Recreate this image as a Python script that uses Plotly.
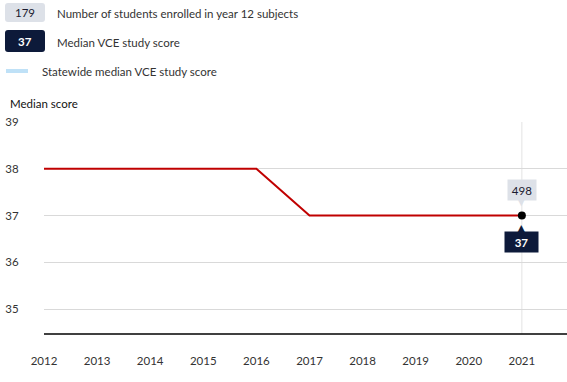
import plotly.graph_objects as go

years = [2012, 2013, 2014, 2015, 2016, 2017, 2018, 2019, 2020, 2021]
median_score = [38, 38, 38, 38, 38, 37, 37, 37, 37, 37]
latest_year = 2021
latest_students = 498
latest_median = 37
legend_students = "179"
legend_median = "37"
y_ticks = [35, 36, 37, 38, 39]
x_ticks = years

W, H = 567, 382
ML, MR, MT, MB = 44, 0, 122, 48
PW, PH = W - ML - MR, H - MT - MB
FONT = "Lato"
FS = 11.5
TXT = "#333333"
NAVY = "#0d1a3a"
LIGHT = "#dde1e8"


def px(x, y):
    return (x - ML) / PW, (H - MB - y) / PH


def rrect(x0, y0, x1, y1, r, color):
    def P(x, y):
        a, b = px(x, y)
        return f"{a:.5f},{b:.5f}"
    d = (f"M {P(x0 + r, y0)} L {P(x1 - r, y0)} Q {P(x1, y0)} {P(x1, y0 + r)} "
         f"L {P(x1, y1 - r)} Q {P(x1, y1)} {P(x1 - r, y1)} L {P(x0 + r, y1)} "
         f"Q {P(x0, y1)} {P(x0, y1 - r)} L {P(x0, y0 + r)} Q {P(x0, y0)} {P(x0 + r, y0)} Z")
    return dict(type="path", xref="paper", yref="paper", path=d,
                fillcolor=color, line=dict(width=0), layer="below")


fig = go.Figure()
fig.add_trace(go.Scatter(x=years, y=median_score, mode="lines",
                         line=dict(color="#c00000", width=2), hoverinfo="skip"))

shapes = [
    dict(type="line", xref="x", yref="paper", x0=latest_year, x1=latest_year,
         y0=0, y1=1, line=dict(color="#e3e3e3", width=1), layer="below"),
    rrect(5, 3, 45, 22, 3, LIGHT),
    rrect(5, 30, 45, 52, 3, NAVY),
]
lx0, ly = px(6, 71)
lx1, _ = px(28, 71)
shapes.append(dict(type="line", xref="paper", yref="paper", x0=lx0, x1=lx1, y0=ly, y1=ly,
                   line=dict(color="#bfe1f7", width=4)))

annotations = []
def ann(x, y, text, xanchor="center", **kw):
    a, b = px(x, y)
    d = dict(xref="paper", yref="paper", x=a, y=b, text=text, showarrow=False,
             xanchor=xanchor, yanchor="middle",
             font=dict(family=FONT, size=FS, color=TXT))
    d.update(kw)
    annotations.append(d)

ann(25, 12, legend_students, font=dict(family=FONT, size=FS, color="#1a1a2e"))
ann(25, 41, f"<b>{legend_median}</b>", font=dict(family=FONT, size=FS, color="white"))
ann(55, 13, "Number of students enrolled in year 12 subjects", xanchor="left")
ann(55, 42, "Median VCE study score", xanchor="left")
ann(40, 71, "Statewide median VCE study score", xanchor="left")
ann(8, 103, "Median score", xanchor="left", font=dict(family=FONT, size=FS, color="#111111"))

# pointer triangles and point labels
annotations.append(dict(x=latest_year, y=latest_median, xref="x", yref="y",
                        text="▼", showarrow=False, yshift=14,
                        xanchor="center", yanchor="middle",
                        font=dict(family="DejaVu Sans", size=11, color=LIGHT)))
annotations.append(dict(x=latest_year, y=latest_median, xref="x", yref="y",
                        text="▲", showarrow=False, yshift=-13,
                        xanchor="center", yanchor="middle",
                        font=dict(family="DejaVu Sans", size=11, color=NAVY)))
annotations.append(dict(x=latest_year, y=latest_median, xref="x", yref="y",
                        text=str(latest_students), showarrow=False, yshift=26,
                        xanchor="center", yanchor="middle", width=22, height=14,
                        bgcolor=LIGHT, borderpad=3,
                        font=dict(family=FONT, size=FS, color="#1a1a2e")))
annotations.append(dict(x=latest_year, y=latest_median, xref="x", yref="y",
                        text=f"<b>{latest_median}</b>", showarrow=False, yshift=-26,
                        xanchor="center", yanchor="middle", width=27, height=14,
                        bgcolor=NAVY, borderpad=3,
                        font=dict(family=FONT, size=FS, color="white")))

fig.add_trace(go.Scatter(x=[latest_year], y=[latest_median], mode="markers",
                         marker=dict(color="black", size=8), hoverinfo="skip"))

fig.update_layout(
    width=W, height=H, margin=dict(l=ML, r=MR, t=MT, b=MB, autoexpand=False),
    paper_bgcolor="white", plot_bgcolor="white", showlegend=False,
    font=dict(family=FONT, size=FS, color=TXT),
    shapes=shapes, annotations=annotations,
    xaxis=dict(range=[2012, 2021.85], tickvals=x_ticks, showgrid=False, zeroline=False,
               showline=False, ticks="outside", ticklen=16, tickcolor="rgba(0,0,0,0)",
               tickfont=dict(family=FONT, size=FS, color=TXT), fixedrange=True,
               automargin=False),
    yaxis=dict(range=[34.47, 39], tickvals=y_ticks, showgrid=True, gridcolor="#d9d9d9",
               zeroline=False, showline=False, ticks="outside", ticklen=22,
               tickcolor="rgba(0,0,0,0)",
               tickfont=dict(family=FONT, size=FS, color=TXT), fixedrange=True,
               automargin=False),
)
fig.add_shape(type="line", xref="paper", yref="paper", x0=0, x1=1, y0=0, y1=0,
              line=dict(color="black", width=1.5))

fig.write_html("out.html", config={"displayModeBar": False},
               post_script="document.body.style.margin='0';document.body.style.overflow='hidden';")
